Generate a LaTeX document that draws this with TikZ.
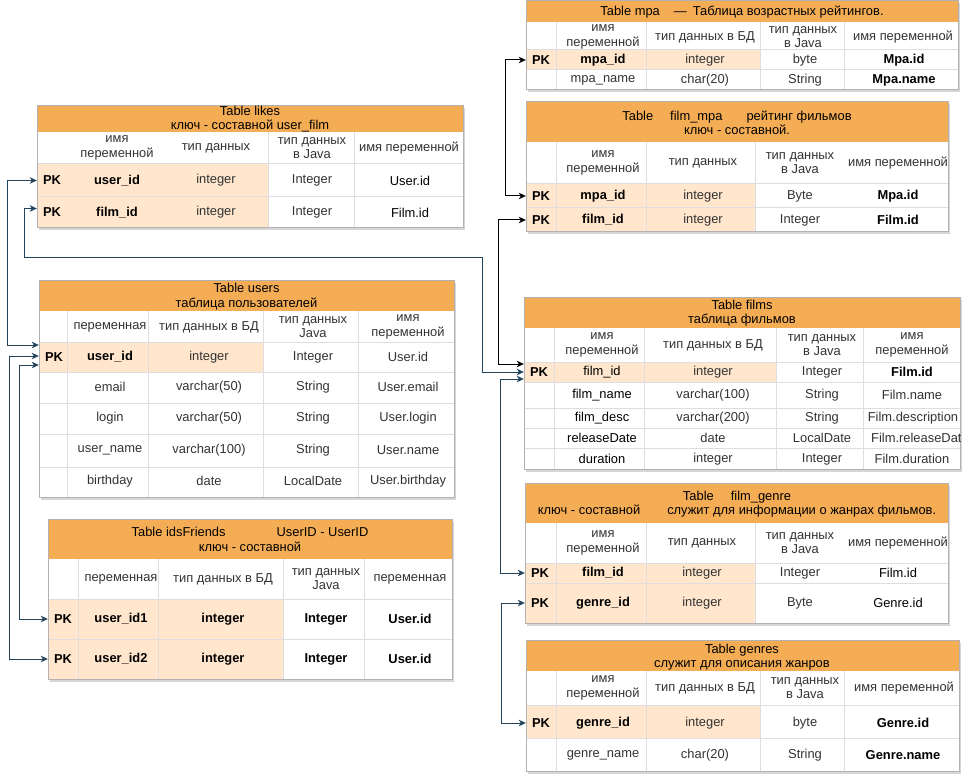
\documentclass[tikz,border=0pt]{standalone}
\usepackage{fontspec}
\setmainfont{Liberation Sans}
\usepackage{tikz}
\usetikzlibrary{arrows.meta, shadows}
\usepackage{xcolor}
\definecolor{headfill}{RGB}{245,173,85}
\definecolor{pkfill}{RGB}{255,230,204}
\definecolor{framegrey}{RGB}{178,178,178}
\definecolor{gridgrey}{RGB}{222,222,222}
\definecolor{txtgrey}{RGB}{51,51,51}
\definecolor{navy}{RGB}{35,68,93}

\begin{document}
\begin{tikzpicture}[x=1pt, y=-1pt, font=\fontsize{12.9}{14.4}\selectfont,
    cell/.style={text=txtgrey, align=center, inner sep=0pt},
    dark/.style={cell, text=black},
    key/.style={cell, text=black, font=\fontsize{12.9}{14.4}\selectfont\bfseries},
    pk/.style={key, minimum width=30pt},
    head/.style={text=black, align=center, inner sep=0pt},
    frame/.style={draw=framegrey, line width=1pt},
    grid/.style={draw=gridgrey, line width=1pt},
    tableshadow/.style={drop shadow={shadow xshift=2pt, shadow yshift=-2.5pt, opacity=.35, fill=black!45}},
    link/.style={draw=navy, line width=1pt, {Stealth[length=7pt, width=6.5pt, inset=2pt]}-{Stealth[length=7pt, width=6.5pt, inset=2pt]}},
    blink/.style={link, draw=black}]
    \useasboundingbox (0,0) rectangle (971,783);
    \fill[white] (0,0) rectangle (971,783);

    % likes
    \fill[white, tableshadow] (37,106) rectangle (463,228);
    \fill[headfill] (37,106) rectangle (463,132);
    \fill[pkfill] (37,164) rectangle (268,228);
    \draw[grid] (37,164) -- (463,164) (37,197) -- (463,197) (268,132) -- (268,228) (354,132) -- (354,228);
    \draw[frame] (37,106) rectangle (463,228);
    \node[head] (lkh) at (250,119) {Table likes\\ключ - составной user\_film};
    \node[cell] (lk0a) at (117,148) {имя\\переменной};
    \node[cell] (lk0b) at (216,148) {тип данных};
    \node[cell] (lk0c) at (312,148) {тип данных\\в Java};
    \node[cell] (lk0d) at (409,148) {имя переменной};
    \node[pk] (lk1p) at (52,180.5) {PK};
    \node[key] (lk1a) at (117,180.5) {user\_id};
    \node[cell] (lk1b) at (216,180.5) {integer};
    \node[cell] (lk1c) at (312,180.5) {Integer};
    \node[dark] (lk1d) at (410,180.5) {User.id};
    \node[pk] (lk2p) at (52,212.5) {PK};
    \node[key] (lk2a) at (117,212.5) {film\_id};
    \node[cell] (lk2b) at (216,212.5) {integer};
    \node[cell] (lk2c) at (312,212.5) {Integer};
    \node[dark] (lk2d) at (410,212.5) {Film.id};

    % users
    \fill[white, tableshadow] (39,281) rectangle (454,497);
    \fill[headfill] (39,281) rectangle (454,311);
    \fill[pkfill] (39,342) rectangle (263,372);
    \draw[grid] (39,342) -- (454,342) (39,372) -- (454,372) (39,403) -- (454,403) (39,434) -- (454,434) (39,467) -- (454,467)
        (67,311) -- (67,497) (148,311) -- (148,497) (263,311) -- (263,497) (358,311) -- (358,497);
    \draw[frame] (39,281) rectangle (454,497);
    \node[head] (ush) at (246.5,296.5) {Table users\\таблица пользователей};
    \node[cell] (us0a) at (110,327) {переменная};
    \node[cell] (us0b) at (209,327) {тип данных в БД};
    \node[cell] (us0c) at (313,327) {тип данных\\Java};
    \node[cell] (us0d) at (408,327) {имя\\переменной};
    \node[pk] (us1p) at (54,357) {PK};
    \node[key] (us1a) at (110,357) {user\_id};
    \node[cell] (us1b) at (209,357) {integer};
    \node[cell] (us1c) at (313,357) {Integer};
    \node[cell] (us1d) at (408,357) {User.id};
    \node[cell] (us2a) at (110,387) {email};
    \node[cell] (us2b) at (209,387) {varchar(50)};
    \node[cell] (us2c) at (313,387) {String};
    \node[cell] (us2d) at (408,387) {User.email};
    \node[cell] (us3a) at (110,418) {login};
    \node[cell] (us3b) at (209,418) {varchar(50)};
    \node[cell] (us3c) at (313,418) {String};
    \node[cell] (us3d) at (408,418) {User.login};
    \node[cell] (us4a) at (110,450) {user\_name};
    \node[cell] (us4b) at (209,450) {varchar(100)};
    \node[cell] (us4c) at (313,450) {String};
    \node[cell] (us4d) at (408,450) {User.name};
    \node[cell] (us5a) at (110,481) {birthday};
    \node[cell] (us5b) at (209,481) {date};
    \node[cell] (us5c) at (313,481) {LocalDate};
    \node[cell] (us5d) at (408,481) {User.birthday};

    % idsFriends
    \fill[white, tableshadow] (48,519) rectangle (452,679);
    \fill[headfill] (48,519) rectangle (452,559);
    \fill[pkfill] (48,599) rectangle (283,679);
    \draw[grid] (48,599) -- (452,599) (48,639) -- (452,639) (78,559) -- (78,679) (158,559) -- (158,679) (283,559) -- (283,679) (364,559) -- (364,679);
    \draw[frame] (48,519) rectangle (452,679);
    \node[head] (frh) at (250,539.5) {Table idsFriends\hspace{51pt}UserID - UserID\\ключ - составной};
    \node[cell] (fr0a) at (121,579) {переменная};
    \node[cell] (fr0b) at (223,579) {тип данных в БД};
    \node[cell] (fr0c) at (326,579) {тип данных\\Java};
    \node[cell] (fr0d) at (410,579) {переменная};
    \node[pk] (fr1p) at (63,619) {PK};
    \node[key] (fr1a) at (121,619) {user\_id1};
    \node[key] (fr1b) at (223,619) {integer};
    \node[key] (fr1c) at (326,619) {Integer};
    \node[key] (fr1d) at (410,619) {User.id};
    \node[pk] (fr2p) at (63,659) {PK};
    \node[key] (fr2a) at (121,659) {user\_id2};
    \node[key] (fr2b) at (223,659) {integer};
    \node[key] (fr2c) at (326,659) {Integer};
    \node[key] (fr2d) at (410,659) {User.id};

    % mpa
    \fill[white, tableshadow] (526,1) rectangle (958,90);
    \fill[headfill] (526,1) rectangle (958,22);
    \fill[pkfill] (526,50) rectangle (760,70);
    \draw[grid] (526,50) -- (958,50) (526,70) -- (958,70) (556,22) -- (556,90) (646,22) -- (646,90) (760,22) -- (760,90) (844,22) -- (844,90);
    \draw[frame] (526,1) rectangle (958,90);
    \node[head] (mph) at (742,12) {Table mpa\hspace{14pt}—\hspace{6pt}Таблица возрастных рейтингов.};
    \node[cell] (mp0a) at (603,37) {имя\\переменной};
    \node[cell] (mp0b) at (705,37) {тип данных в БД};
    \node[cell] (mp0c) at (803,37) {тип данных\\в Java};
    \node[cell] (mp0d) at (903,37) {имя переменной};
    \node[pk] (mp1p) at (541,60) {PK};
    \node[key] (mp1a) at (603,60) {mpa\_id};
    \node[cell] (mp1b) at (705,60) {integer};
    \node[cell] (mp1c) at (805,60) {byte};
    \node[key] (mp1d) at (904,60) {Mpa.id};
    \node[cell] (mp2a) at (603,80) {mpa\_name};
    \node[cell] (mp2b) at (705,80) {char(20)};
    \node[cell] (mp2c) at (805,80) {String};
    \node[key] (mp2d) at (904,80) {Mpa.name};

    % film_mpa
    \fill[white, tableshadow] (526,102) rectangle (948,232);
    \fill[headfill] (526,102) rectangle (948,142);
    \fill[pkfill] (526,184) rectangle (755,232);
    \draw[grid] (526,184) -- (948,184) (526,208) -- (948,208) (556,142) -- (556,232) (646,142) -- (646,232) (755,142) -- (755,232);
    \draw[frame] (526,102) rectangle (948,232);
    \node[head] (fmh) at (737,123) {Table\hspace{17pt}film\_mpa\hspace{24pt}рейтинг фильмов\\ключ - составной.};
    \node[cell] (fm0a) at (603,163) {имя\\переменной};
    \node[cell] (fm0b) at (703,163) {тип данных};
    \node[cell] (fm0c) at (800,163) {тип данных\\в Java};
    \node[cell] (fm0d) at (898,163) {имя переменной};
    \node[pk] (fm1p) at (541,196) {PK};
    \node[key] (fm1a) at (603,196) {mpa\_id};
    \node[cell] (fm1b) at (703,196) {integer};
    \node[cell] (fm1c) at (800,196) {Byte};
    \node[key] (fm1d) at (898,196) {Mpa.id};
    \node[pk] (fm2p) at (541,220) {PK};
    \node[key] (fm2a) at (603,220) {film\_id};
    \node[cell] (fm2b) at (703,220) {integer};
    \node[cell] (fm2c) at (800,220) {Integer};
    \node[key] (fm2d) at (898,220) {Film.id};

    % films
    \fill[white, tableshadow] (524,298) rectangle (960,469);
    \fill[headfill] (524,298) rectangle (960,328);
    \fill[pkfill] (524,362) rectangle (776,382);
    \draw[grid] (524,362) -- (960,362) (524,382) -- (960,382) (524,408) -- (960,408) (524,428) -- (960,428) (524,448) -- (960,448)
        (554,328) -- (554,469) (644,328) -- (644,469) (776,328) -- (776,469) (863,328) -- (863,469);
    \draw[frame] (524,298) rectangle (960,469);
    \node[head] (flh) at (742,313) {Table films\\таблица фильмов};
    \node[cell] (fl0a) at (602,345) {имя\\переменной};
    \node[cell] (fl0b) at (713,345) {тип данных в БД};
    \node[cell] (fl0c) at (822,345) {тип данных\\в Java};
    \node[cell] (fl0d) at (912,345) {имя\\переменной};
    \node[pk] (fl1p) at (539,372) {PK};
    \node[dark] (fl1a) at (602,372) {film\_id};
    \node[cell] (fl1b) at (713,372) {integer};
    \node[cell] (fl1c) at (822,372) {Integer};
    \node[key] (fl1d) at (912,372) {Film.id};
    \node[dark] (fl2a) at (602,395) {film\_name};
    \node[cell] (fl2b) at (713,395) {varchar(100)};
    \node[cell] (fl2c) at (822,395) {String};
    \node[cell] (fl2d) at (912,395) {Film.name};
    \node[dark] (fl3a) at (602,418) {film\_desc};
    \node[cell] (fl3b) at (713,418) {varchar(200)};
    \node[cell] (fl3c) at (822,418) {String};
    \node[cell] (fl3d) at (913,418) {Film.description};
    \node[dark] (fl4a) at (602,438) {releaseDate};
    \node[cell] (fl4b) at (713,438) {date};
    \node[cell] (fl4c) at (822,438) {LocalDate};
    \begin{scope}
        \clip (863,428) rectangle (960,448);
        \node[cell, anchor=west] (fl4d) at (871,438) {Film.releaseDate};
    \end{scope}
    \node[dark] (fl5a) at (602,459) {duration};
    \node[cell] (fl5b) at (713,459) {integer};
    \node[cell] (fl5c) at (822,459) {Integer};
    \node[cell] (fl5d) at (912,459) {Film.duration};

    % film_genre
    \fill[white, tableshadow] (525,483) rectangle (948,623);
    \fill[headfill] (525,483) rectangle (948,523);
    \fill[pkfill] (525,563) rectangle (755,623);
    \draw[grid] (525,563) -- (948,563) (525,583) -- (948,583) (556,523) -- (556,623) (646,523) -- (646,623) (755,523) -- (755,623);
    \draw[frame] (525,483) rectangle (948,623);
    \node[head] (fgh) at (737,504) {Table\hspace{17pt}film\_genre\\ключ - составной\hspace{27pt}служит для информации о жанрах фильмов.};
    \node[cell] (fg0a) at (603,543) {имя\\переменной};
    \node[cell] (fg0b) at (702,543) {тип данных};
    \node[cell] (fg0c) at (800,543) {тип данных\\в Java};
    \node[cell] (fg0d) at (898,543) {имя переменной};
    \node[pk] (fg1p) at (540,573) {PK};
    \node[key] (fg1a) at (603,573) {film\_id};
    \node[cell] (fg1b) at (702,573) {integer};
    \node[cell] (fg1c) at (800,573) {Integer};
    \node[dark] (fg1d) at (898,573) {Film.id};
    \node[pk] (fg2p) at (540,603) {PK};
    \node[key] (fg2a) at (603,603) {genre\_id};
    \node[cell] (fg2b) at (702,603) {integer};
    \node[cell] (fg2c) at (800,603) {Byte};
    \node[dark] (fg2d) at (898,603) {Genre.id};

    % genres
    \fill[white, tableshadow] (526,640) rectangle (959,771);
    \fill[headfill] (526,640) rectangle (959,671);
    \fill[pkfill] (526,705) rectangle (760,738);
    \draw[grid] (526,705) -- (959,705) (526,738) -- (959,738) (556,671) -- (556,771) (646,671) -- (646,771) (760,671) -- (760,771) (844,671) -- (844,771);
    \draw[frame] (526,640) rectangle (959,771);
    \node[head] (gnh) at (742,657) {Table genres\\служит для описания жанров};
    \node[cell] (gn0a) at (603,688) {имя\\переменной};
    \node[cell] (gn0b) at (705,688) {тип данных в БД};
    \node[cell] (gn0c) at (805,688) {тип данных\\в Java};
    \node[cell] (gn0d) at (904,688) {имя переменной};
    \node[pk] (gn1p) at (541,723) {PK};
    \node[key] (gn1a) at (603,723) {genre\_id};
    \node[cell] (gn1b) at (705,723) {integer};
    \node[cell] (gn1c) at (805,723) {byte};
    \node[key] (gn1d) at (903,723) {Genre.id};
    \node[cell] (gn2a) at (603,755) {genre\_name};
    \node[cell] (gn2b) at (705,755) {char(20)};
    \node[cell] (gn2c) at (805,755) {String};
    \node[key] (gn2d) at (903,755) {Genre.name};

    \draw[link] (lk1p.west) -- ++(-29,0) |- ([yshift=12pt]us1p.west);
    \draw[link] ([yshift=4pt]lk2p.west) -- ++(-12,0) -- ++(0,49) -- ++(458,0) |- (fl1p.west);
    \draw[link] ([yshift=1pt]us1p.west) -- ++(-29,0) |- (fr2p.west);
    \draw[link] ([yshift=-8pt]us1p.west) -- ++(-19,0) |- (fr1p.west);
    \draw[blink] (mp1p.west) -- ++(-20,0) |- (fm1p.west);
    \draw[blink] (fm2p.west) -- ++(-27,0) |- ([yshift=8pt]fl1p.west);
    \draw[link] ([yshift=-7pt]fl1p.west) -- ++(-23,0) |- (fg1p.west);
    \draw[link] (fg2p.west) -- ++(-23,0) |- (gn1p.west);
\end{tikzpicture}
\end{document}
